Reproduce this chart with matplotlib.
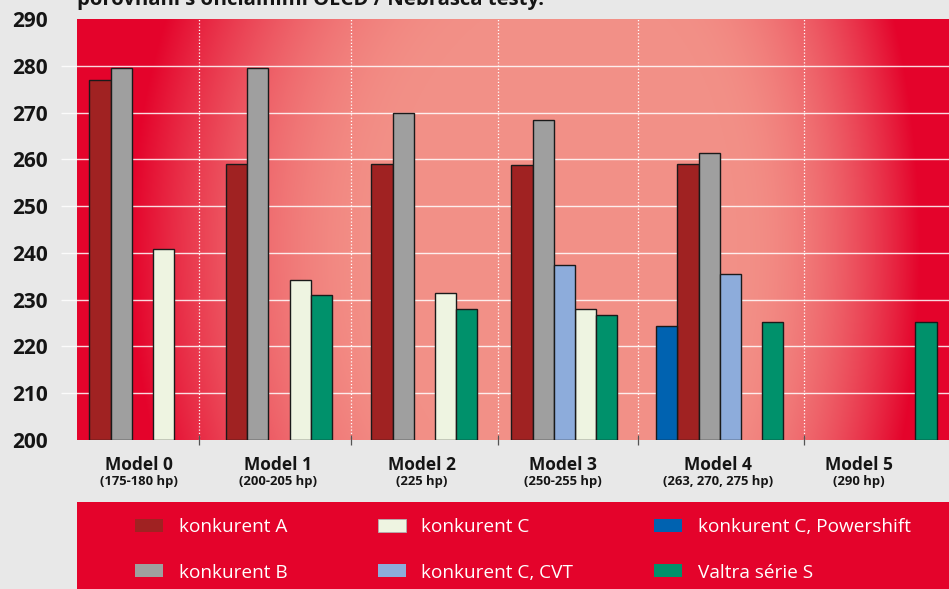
import numpy as np
import matplotlib
matplotlib.use("Agg")
import matplotlib.pyplot as plt
from matplotlib.patches import Rectangle

nan = np.nan

# ---------------- data ----------------
groups = ["Model 0", "Model 1", "Model 2", "Model 3", "Model 4", "Model 5"]
subtitles = ["(175-180 hp)", "(200-205 hp)", "(225 hp)", "(250-255 hp)",
             "(263, 270, 275 hp)", "(290 hp)"]

konkurent_A = [276.9, 258.9, 258.9, 258.8, 258.9, nan]
konkurent_B = [279.6, 279.6, 270.0, 268.5, 261.4, nan]
konkurent_C = [240.9, 234.3, 231.5, 228.1, nan, nan]
konkurent_C_powershift = [nan, nan, nan, nan, 224.4, nan]
konkurent_C_cvt = [nan, nan, nan, 237.5, 235.5, nan]
valtra_S = [nan, 230.9, 227.9, 226.7, 225.3, 225.3]

series_names = ["konkurent A", "konkurent B", "konkurent C",
                "konkurent C, Powershift", "konkurent C, CVT", "Valtra série S"]

yticks = list(range(200, 291, 10))
title_text = "porovnání s oficiálními OECD / Nebrasca testy."

# ---------------- layout / style ----------------
W, H = 949, 589
DPI = 100
colors = {
    "konkurent A": "#a02222",
    "konkurent B": "#9f9f9f",
    "konkurent C": "#eef4e1",
    "konkurent C, Powershift": "#0062b0",
    "konkurent C, CVT": "#8dacdb",
    "Valtra série S": "#00916b",
}
series_values = [konkurent_A, konkurent_B, konkurent_C,
                 konkurent_C_powershift, konkurent_C_cvt, valtra_S]
slot = {"konkurent A": 0, "konkurent B": 1, "konkurent C, CVT": 2,
        "konkurent C": 3, "Valtra série S": 4, "konkurent C, Powershift": -1}
group_anchor = [89.3, 226.0, 371.3, 511.3, 677.3, 830.5]
bar_w = 21.2
separators = [199.3, 351.3, 498.0, 638.3, 804.0]
label_x = [139, 277.7, 421.7, 563, 718, 859]

FONT = "Open Sans"
plt.rcParams["font.family"] = [FONT, "DejaVu Sans"]

fig = plt.figure(figsize=(W / DPI, H / DPI), dpi=DPI, facecolor="#e8e8e8")
ax_left, ax_right, ax_top, ax_bot = 77, 949, 19, 440
ax = fig.add_axes([ax_left / W, 1 - ax_bot / H, (ax_right - ax_left) / W,
                   (ax_bot - ax_top) / H])
ax.set_xlim(ax_left, ax_right)
ax.set_ylim(200, 290)
for s in ax.spines.values():
    s.set_visible(False)

# radial background gradient (off-centre light spot)
xs = np.arange(ax_left, ax_right) + 0.5
ys = np.arange(ax_top, ax_bot) + 0.5
XX, YY = np.meshgrid(xs, ys)
cx, cy = 590.0, 250.0
rx = np.where(XX < cx, 460.0, 330.0)
r = np.sqrt(((XX - cx) / rx) ** 2 + ((YY - cy) / 600.0) ** 2)
f = np.clip((r - 0.45) / 0.55, 0, 1) ** 1.8
pink = np.array([243, 144, 135]) / 255.0
red = np.array([228, 3, 43]) / 255.0
img = pink[None, None, :] * (1 - f[..., None]) + red[None, None, :] * f[..., None]
ax.imshow(img, extent=(ax_left, ax_right, 200, 290), aspect="auto",
          origin="upper", zorder=0, interpolation="bilinear")

# gridlines (extend left of the plot area)
for t in yticks[1:-1]:
    ax.plot([61, ax_right], [t, t], color="white", lw=1.0, alpha=0.85,
            zorder=1, clip_on=False, solid_capstyle="butt")

# dotted separators
for sx in separators:
    ax.plot([sx, sx], [200, 290], color="white", lw=0.9,
            linestyle=(0, (1, 1.6)), zorder=1)

# bars
for name, vals in zip(series_names, series_values):
    for gi, v in enumerate(vals):
        if np.isnan(v):
            continue
        x0 = group_anchor[gi] + slot[name] * bar_w
        ax.bar(x0, v - 200, bottom=200, width=bar_w, align="edge",
               color=colors[name], edgecolor="#1a1a1a", linewidth=1.0,
               zorder=3)

# ticks
ax.set_yticks(yticks)
ax.set_yticklabels([str(t) for t in yticks], fontsize=15, fontweight="bold",
                   color="#151515")
ax.tick_params(axis="y", length=0, pad=21)
ax.set_xticks(separators)
ax.set_xticklabels([""] * len(separators))
ax.tick_params(axis="x", direction="inout", length=7, width=0.9,
               color="#555555")


def fx(x):
    return x / W


def fy(y):
    return 1 - y / H


# group labels
for lx, g, sub in zip(label_x, groups, subtitles):
    fig.text(fx(lx), fy(469.5), g, ha="center", va="baseline",
             fontsize=12.5, fontweight="bold", color="#151515")
    fig.text(fx(lx), fy(484.5), sub, ha="center", va="baseline",
             fontsize=9.4, fontweight="bold", color="#151515")

# title (cropped at top, as in the original)
fig.text(fx(77), fy(5), title_text, ha="left", va="baseline",
         fontsize=14.6, fontweight="bold", color="#151515")

# legend box
fig.patches.append(Rectangle((fx(77), fy(589)), (949 - 77) / W, (589 - 502) / H,
                             transform=fig.transFigure, facecolor="#e4032b",
                             edgecolor="none", zorder=0))
legend_layout = [
    ("konkurent A", 135, 179, 0),
    ("konkurent B", 135, 179, 1),
    ("konkurent C", 377.5, 421, 0),
    ("konkurent C, CVT", 377.5, 421, 1),
    ("konkurent C, Powershift", 654, 698, 0),
    ("Valtra série S", 654, 698, 1),
]
row_patch_top = [519, 564]
row_baseline = [531.5, 577.5]
for name, px_, tx, row in legend_layout:
    ec = "#b0b0b0" if name == "konkurent C" else "none"
    fig.patches.append(Rectangle((fx(px_), fy(row_patch_top[row] + 13)),
                                 28 / W, 13 / H, transform=fig.transFigure,
                                 facecolor=colors[name], edgecolor=ec,
                                 linewidth=0.6, zorder=1))
    fig.text(fx(tx), fy(row_baseline[row]), name, ha="left", va="baseline",
             fontsize=13.7, color="white")

fig.savefig("out.png", dpi=DPI, facecolor=fig.get_facecolor())
